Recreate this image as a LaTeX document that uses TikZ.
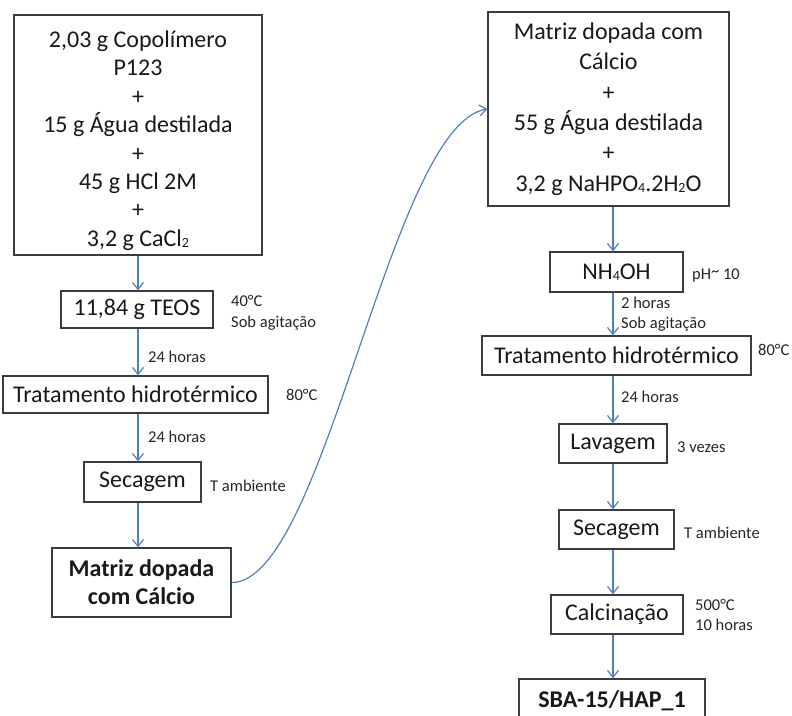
\documentclass[tikz,border=0pt]{standalone}
\usepackage{fontspec}
\setmainfont{Carlito}
\usetikzlibrary{arrows.meta}
\definecolor{arrowblue}{RGB}{79,129,189}
\definecolor{boxline}{RGB}{60,60,60}
\newcommand{\smallsub}[1]{{\fontsize{14}{14}\selectfont\raisebox{-1.5pt}{#1}}}
\tikzset{
  procbox/.style={draw=boxline, line width=1.3pt, align=center, inner sep=0pt,
    font=\fontsize{24}{29.5}\selectfont, text=black!90},
  boldbox/.style={procbox, font=\fontsize{24}{28}\selectfont\bfseries},
  note/.style={anchor=west, align=left, inner sep=0pt,
    font=\fontsize{16.5}{20.5}\selectfont, text=black!85},
  flow/.style={draw=arrowblue, line width=1.2pt, -{Straight Barb[length=7pt,width=11pt]}}
}
\begin{document}
\begin{tikzpicture}[x=1pt,y=-1pt]
\path[use as bounding box, clip] (0,0) rectangle (792,715);
\fill[white] (0,0) rectangle (792,715);
\coordinate (lc) at (138,0);
\coordinate (rc) at (613,0);
% left column
\node[procbox, minimum width=248pt, minimum height=240pt, font=\fontsize{24}{28.4}\selectfont] (mix) at (138,135)
  {\rule{0pt}{28pt}2,03 g Copolímero\\P123\\+\\15 g Água destilada\\+\\45 g HCl 2M\\+\\3,2 g CaCl\smallsub{2}};
\node[procbox, minimum width=152pt, minimum height=37pt] (teos) at (137,309.5) {11,84 g TEOS};
\node[procbox, minimum width=265pt, minimum height=37pt] (trat1) at (135.5,394.5) {Tratamento hidrotérmico};
\node[procbox, minimum width=117pt, minimum height=40pt] (sec1) at (142.5,482) {Secagem};
\node[boldbox, minimum width=179pt, minimum height=69pt] (matriz) at (141.5,582.5) {Matriz dopada\\com Cálcio};
% right column
\node[procbox, minimum width=241pt, minimum height=194pt, font=\fontsize{24}{30.4}\selectfont] (mix2) at (608.5,109)
  {Matriz dopada com\\Cálcio\\+\\55 g Água destilada\\+\\3,2 g NaHPO\smallsub{4}.2H\smallsub{2}O};
\node[procbox, minimum width=133pt, minimum height=40pt] (nh) at (616.5,272) {NH\smallsub{4}OH};
\node[procbox, minimum width=269pt, minimum height=39pt] (trat2) at (616.5,355.5) {Tratamento hidrotérmico};
\node[procbox, minimum width=108pt, minimum height=39pt] (lav) at (613,443.5) {Lavagem};
\node[procbox, minimum width=115pt, minimum height=39pt] (sec2) at (616.5,529.5) {Secagem};
\node[procbox, minimum width=132pt, minimum height=39pt] (calc) at (617,614.5) {Calcinação};
\node[boldbox, minimum width=186pt, minimum height=44pt] (sba) at (612,701) {SBA-15/HAP\_1};
% notes
\node[note] (n1) at (231,313) {40°C\\Sob agitação};
\node[note] (n2) at (148,357) {24 horas};
\node[note] (n3) at (286,395) {80°C};
\node[note] (n4) at (148,437) {24 horas};
\node[note] (n5) at (210,486) {T ambiente};
\node[note] (n6) at (692,275) {pH\raisebox{3pt}{\textasciitilde} 10};
\node[note] (n7) at (621,314) {2 horas\\Sob agitação};
\node[note] (n8) at (758,350) {80°C};
\node[note] (n9) at (621,397) {24 horas};
\node[note] (n10) at (677,447) {3 vezes};
\node[note] (n11) at (684,533) {T ambiente};
\node[note] (n12) at (695,615) {500°C\\10 horas};
% arrows left
\draw[flow] (mix.south -| lc) -- (teos.north -| lc);
\draw[flow] (teos.south -| lc) -- (trat1.north -| lc);
\draw[flow] (trat1.south -| lc) -- (sec1.north -| lc);
\draw[flow] (sec1.south -| lc) -- (matriz.north -| lc);
% connecting curve
\draw[flow] (matriz.east) .. controls (325,583) and (390,125) .. (mix2.west);
% arrows right
\draw[flow] (mix2.south -| rc) -- (nh.north -| rc);
\draw[flow] (nh.south -| rc) -- (trat2.north -| rc);
\draw[flow] (trat2.south -| rc) -- (lav.north -| rc);
\draw[flow] (lav.south -| rc) -- (sec2.north -| rc);
\draw[flow] (sec2.south -| rc) -- (calc.north -| rc);
\draw[flow] (calc.south -| rc) -- (sba.north -| rc);
\end{tikzpicture}
\end{document}
